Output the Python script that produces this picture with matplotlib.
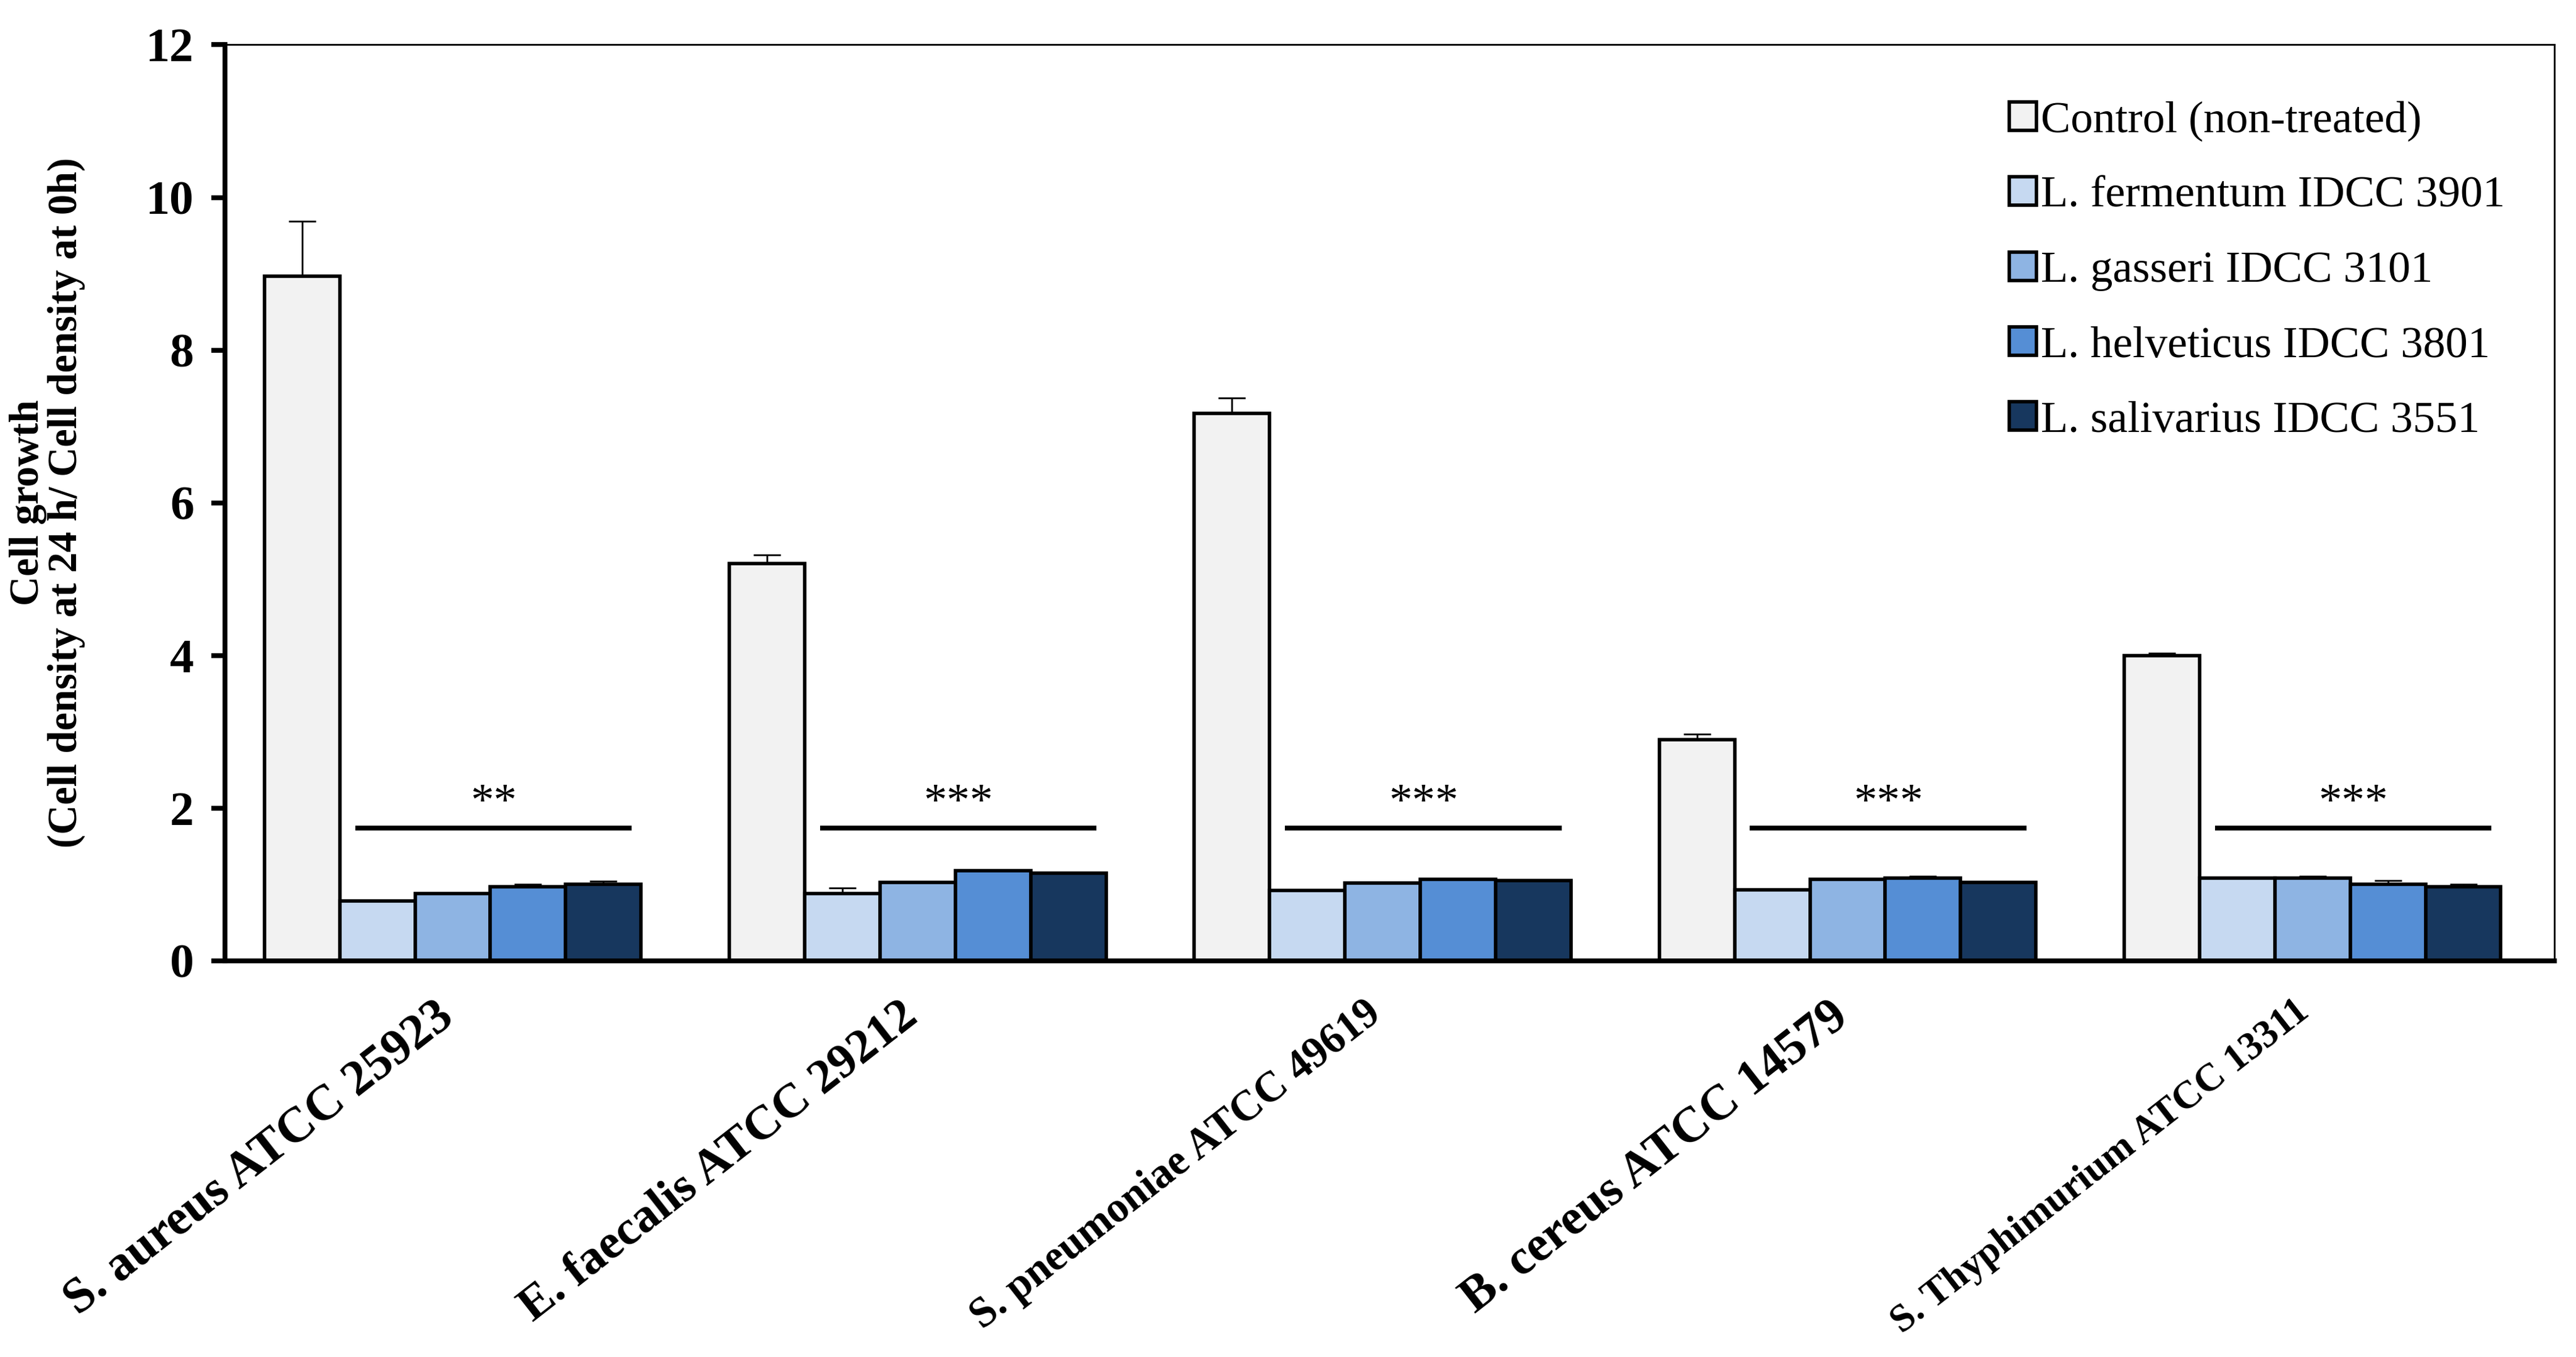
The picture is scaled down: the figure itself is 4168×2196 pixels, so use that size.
import numpy as np
import matplotlib
matplotlib.use('Agg')
import matplotlib.pyplot as plt
from matplotlib.transforms import ScaledTranslation

plt.rcParams['font.family'] = ['Liberation Serif', 'DejaVu Serif']

strains = ['S. aureus ATCC 25923', 'E. faecalis ATCC 29212', 'S. pneumoniae ATCC 49619',
           'B. cereus ATCC 14579', 'S. Thyphimurium ATCC 13311']
series = ['Control (non-treated)', 'L. fermentum IDCC 3901', 'L. gasseri IDCC 3101',
          'L. helveticus IDCC 3801', 'L. salivarius IDCC 3551']

control = [8.97, 5.2, 7.17, 2.9, 4.0]
fermentum = [0.78, 0.88, 0.92, 0.93, 1.08]
gasseri = [0.88, 1.03, 1.02, 1.07, 1.08]
helveticus = [0.97, 1.18, 1.07, 1.08, 1.0]
salivarius = [1.0, 1.15, 1.05, 1.03, 0.97]

control_err = [0.72, 0.12, 0.2, 0.07, 0.03]
fermentum_err = [0.0, 0.07, 0.0, 0.0, 0.0]
gasseri_err = [0.0, 0.0, 0.0, 0.0, 0.03]
helveticus_err = [0.03, 0.0, 0.0, 0.03, 0.05]
salivarius_err = [0.04, 0.0, 0.0, 0.0, 0.03]

signif = ['**', '***', '***', '***', '***']
sig_y = 1.74

colors = ['#F2F2F2', '#C6D9F1', '#8EB4E3', '#558ED5', '#17375E']

values = [control, fermentum, gasseri, helveticus, salivarius]
errs = [control_err, fermentum_err, gasseri_err, helveticus_err, salivarius_err]

fig = plt.figure(figsize=(20.84, 10.98), dpi=200)
ax = fig.add_axes([0.0873, 0.292, 0.9043, 0.675])

ind = np.arange(len(strains))
width = 0.162

for i in range(len(series)):
    e = np.array(errs[i])
    ax.bar(ind + (i - 2) * width, values[i], width, color=colors[i], edgecolor='black',
           linewidth=2.0, label=series[i], zorder=2,
           yerr=[np.zeros_like(e), e], error_kw=dict(ecolor='black', elinewidth=1.0,
                                                       capsize=8, capthick=1.0, zorder=3))

# significance bars
for k in range(len(strains)):
    ax.plot([ind[k] - 0.21, ind[k] + 0.385], [sig_y, sig_y], color='black', lw=2.8,
            solid_capstyle='butt', zorder=3)
    ax.text(ind[k] + 0.088, sig_y + 0.17, signif[k], ha='center', va='baseline',
            fontsize=27, zorder=3)

ax.set_xlim(-0.49, 4.52)
ax.set_ylim(0, 12)
ax.set_yticks(np.arange(0, 13, 2))
ax.set_xticks(ind)
ax.set_xticklabels(strains, rotation=38, ha='right', va='top', rotation_mode='anchor',
                   fontsize=29, fontweight='bold')
for lab in ax.get_yticklabels():
    lab.set_fontweight('bold')
    lab.set_fontsize(28)
ax.tick_params(axis='x', length=0, pad=19)
ax.tick_params(axis='y', direction='out', length=8, width=2.8, pad=10)

# the labels in the reference are squeezed to about the same length,
# shrink the long ones part of the way so they still fit
renderer = fig.canvas.get_renderer()
target = 790.0
shift = ScaledTranslation(-0.15, 0, fig.dpi_scale_trans)
for lab in ax.get_xticklabels():
    w, h, d = renderer.get_text_width_height_descent(lab.get_text(), lab.get_fontproperties(), ismath=False)
    lab.set_fontsize(min(29, 29 * (target / w) ** 0.8))
    lab.set_transform(lab.get_transform() + shift)

ax.spines['left'].set_linewidth(2.8)
ax.spines['bottom'].set_linewidth(2.8)
ax.spines['top'].set_linewidth(1.0)
ax.spines['right'].set_linewidth(1.0)

ax.set_ylabel('Cell growth\n(Cell density at 24 h/ Cell density at 0h)', fontsize=24,
              fontweight='bold', linespacing=1.0)
ax.yaxis.set_label_coords(-0.06, 0.5)

ax.legend(loc='upper right', bbox_to_anchor=(0.996, 0.983), frameon=False, fontsize=26,
          handlelength=0.6, handleheight=0.6, handletextpad=0.1, labelspacing=0.78)

fig.savefig('out.png', dpi=200)
